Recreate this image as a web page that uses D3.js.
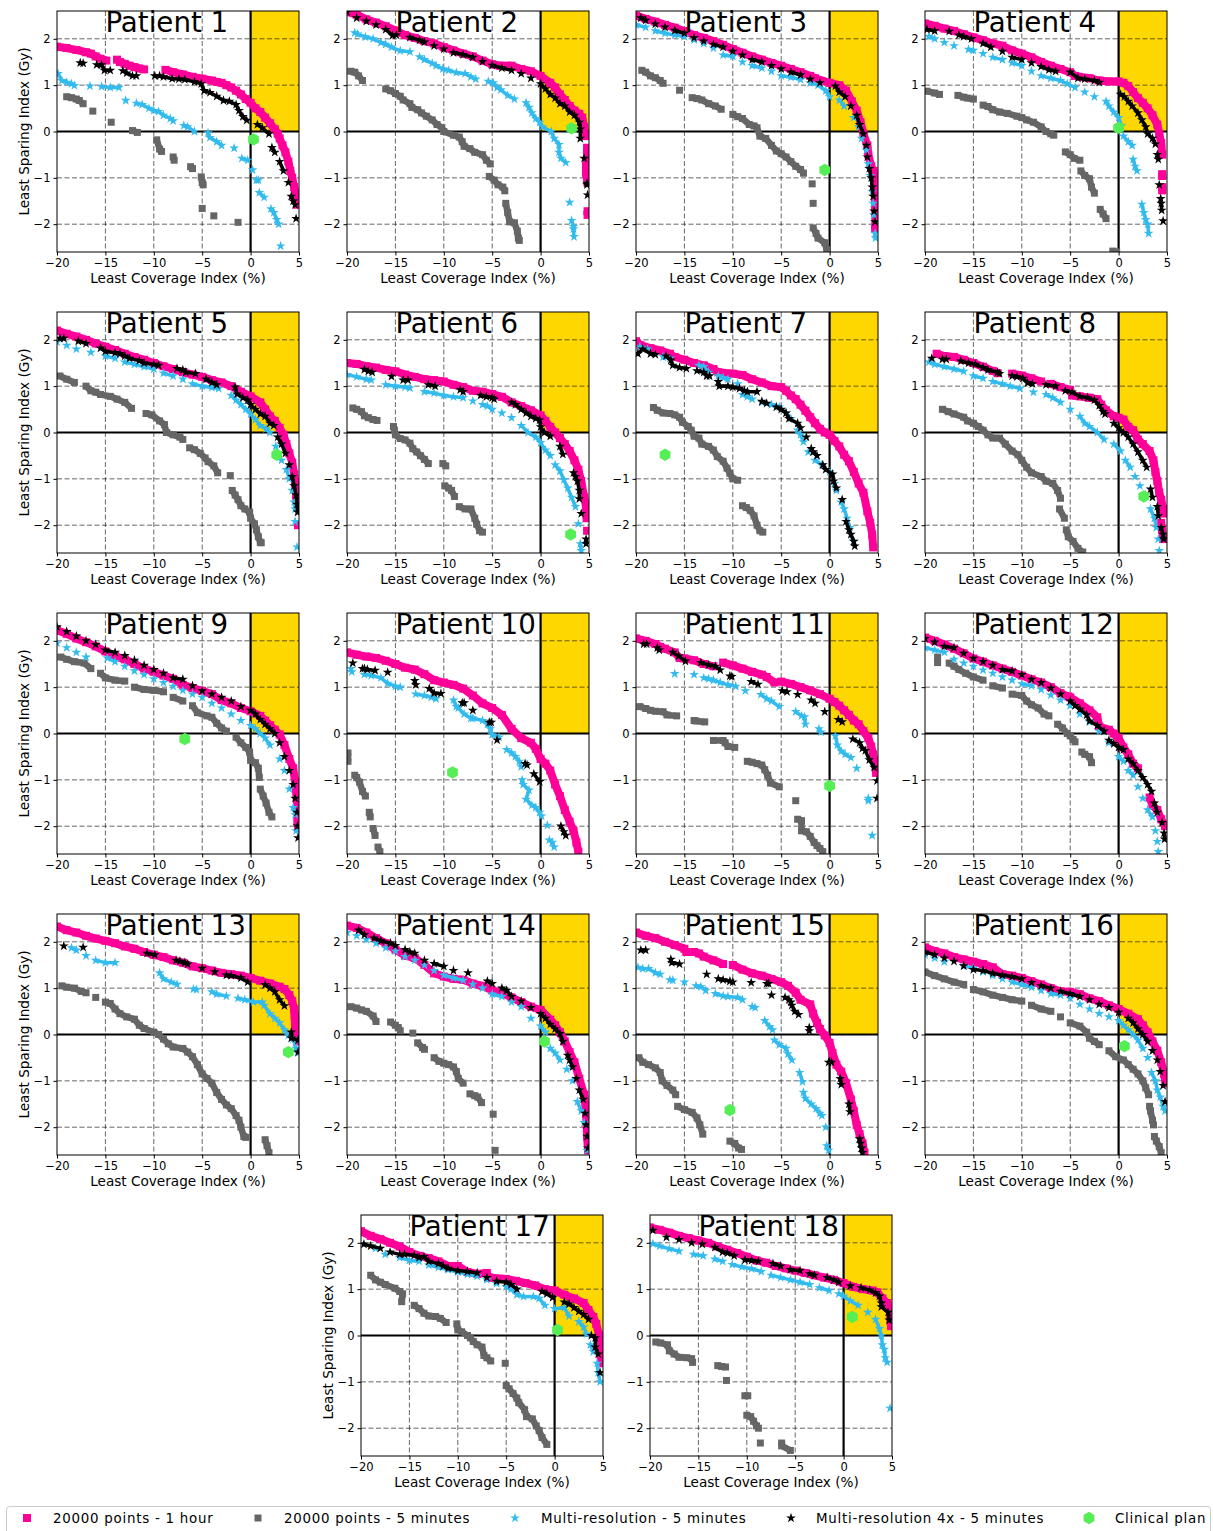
<!DOCTYPE html>
<html>
<head>
<meta charset="utf-8">
<script src="https://cdn.jsdelivr.net/npm/d3@7"></script>
<style>
body { margin: 0; background: #fff; }
text { font-family: "DejaVu Sans", sans-serif; fill: #000; }
</style>
</head>
<body>
<script>
// null = a real gap in the pink band
const pink1 = [[-20,1.83],[-19,1.8],[-18,1.76],[-17,1.71],[-16.5,1.68],[-16,1.62],[-15.5,1.57],[-14.9,1.53],null,[-13.8,1.55],[-13.5,1.5],[-13,1.46],[-12.5,1.42],[-12,1.39],[-11.5,1.36],[-11,1.34],null,[-8.8,1.33],[-8,1.28],[-7,1.23],[-6,1.18],[-5,1.14],[-4,1.1],[-3.5,1.07],[-3,1.05],[-2.5,1],[-2,0.95],[-1.5,0.88],[-1,0.8],[-0.5,0.7],[0,0.62],[0.5,0.5],[1,0.42],[1.5,0.3],[2,0.18],[2.5,0.05],[2.8,-0.05],[3,-0.15],[3.3,-0.3],[3.6,-0.45],[3.9,-0.65],[4.1,-0.85],[4.3,-1],[4.5,-1.2],[4.7,-1.4],[4.8,-1.58]];
const pink2 = [[-20,2.58],[-19,2.52],[-18,2.42],[-17,2.35],[-16,2.27],[-15,2.18],[-14,2.08],[-13,2.02],[-12,1.95],[-11,1.9],[-10,1.82],[-9,1.75],[-8,1.68],[-7,1.62],[-6,1.53],[-5,1.45],[-4.2,1.42],[-3,1.42],[-2,1.35],[-1,1.3],[0,1.2],[1,1.05],[1.5,0.95],[2,0.8],[2.5,0.68],[3,0.55],[3.5,0.45],[4,0.38],[4.3,0.3],[4.5,0.1],[4.6,-0.1],null,[4.8,-0.35],[4.8,-0.5],[4.7,-0.75],[4.7,-0.9],[4.85,-1.1],null,[4.85,-1.72],[4.85,-1.8]];
const pink3 = [[-20,2.5],[-19,2.43],[-18,2.37],[-17,2.3],[-16,2.24],[-15,2.17],[-14,2.08],[-13,2.02],[-12,1.95],[-11,1.87],[-10,1.78],[-9,1.7],[-8,1.62],[-7,1.55],[-6,1.48],[-5,1.42],[-4,1.35],[-3,1.28],[-2,1.2],[-1.5,1.15],[0,1.05],[1,1],[1.7,0.88],[2.3,0.65],[2.8,0.45],[3.2,0.2],[3.5,-0.05],[3.9,-0.3],[4,-0.5],[4.3,-0.75],[4.55,-0.85],[4.6,-1.05],[4.65,-1.2],[4.7,-1.4],[4.7,-1.6],[4.75,-1.8],[4.7,-2.1]];
const pink4 = [[-20,2.33],[-19,2.28],[-18,2.22],[-17,2.17],[-16,2.1],[-15,2.03],[-14,1.97],[-13,1.9],[-12,1.85],[-11,1.75],[-10,1.68],[-9,1.6],[-8,1.5],[-7,1.42],[-6,1.35],[-5,1.28],[-4.5,1.2],[-3,1.15],[-2,1.1],[-1,1.08],[0,1.08],[0.5,1.05],[1,0.98],[1.5,0.85],[2,0.72],[2.5,0.62],[3,0.5],[3.5,0.35],[4,0.15],[4.2,-0.05],[4.4,-0.25],[4.5,-0.5],null,[4.5,-0.92],[4.5,-0.96],null,[4.5,-1.2],[4.5,-1.27]];
const pink5 = [[-20,2.2],[-19,2.13],[-18,2.07],[-17,2],[-16,1.92],[-15,1.85],[-14,1.78],[-13,1.7],[-12,1.63],[-11,1.57],[-10,1.5],[-9,1.43],[-8,1.37],[-7,1.3],[-6,1.25],[-5,1.2],[-4,1.13],[-3,1.08],[-2,1],[-1,0.88],[0,0.78],[1,0.65],[1.5,0.5],[2,0.35],[2.5,0.25],[3,0.1],[3.4,-0.05],[3.7,-0.25],[4,-0.45],[4.3,-0.65],[4.5,-0.9],[4.6,-1.1],[4.7,-1.35],[4.8,-1.6],null,[4.9,-2]];
const pink6 = [[-20,1.5],[-19,1.48],[-18,1.43],[-17,1.4],[-16,1.35],[-15,1.32],[-14,1.25],[-13,1.2],[-12,1.15],[-11,1.13],[-10,1.1],[-9,1.03],[-8,0.98],[-7,0.9],[-6,0.88],[-5,0.83],[-4,0.77],[-3,0.65],[-2,0.57],[-1,0.48],[0,0.37],[0.5,0.25],[1,0.12],[1.5,0],[2,-0.12],[2.5,-0.25],[3,-0.4],[3.5,-0.6],[3.9,-0.8],[4.2,-1.05],[4.5,-1.4],[4.7,-1.6],[4.75,-1.85],null,[4.8,-2.12]];
const pink7 = [[-20,1.97],[-19.5,1.88],[-18.5,1.82],[-17.5,1.77],[-16.5,1.7],[-16,1.63],[-15,1.57],[-14,1.5],[-13,1.45],[-12,1.37],[-11.5,1.3],[-10,1.27],[-9,1.24],[-8,1.15],[-7,1.08],[-6,1],[-5,0.98],[-4.5,0.9],[-4,0.8],[-3.5,0.72],[-3,0.6],[-2.5,0.47],[-2,0.33],[-1.5,0.2],[-1,0.08],[-0.5,0],[0,-0.05],[0.5,-0.18],[1,-0.3],[1.5,-0.48],[2,-0.62],[2.5,-0.85],[3,-1.1],[3.5,-1.3],[3.9,-1.7],[4.2,-1.95],[4.4,-2.2],[4.5,-2.48]];
const pink8 = [[-18.8,1.7],[-18,1.65],[-17,1.63],[-16,1.57],[-15,1.5],[-14,1.42],[-13,1.33],[-12.5,1.28],null,[-11,1.27],[-10,1.23],[-9,1.17],[-8,1.1],null,[-7,1.05],[-6,0.98],[-5,0.92],[-4.8,0.8],[-4,0.78],[-3,0.75],[-2.2,0.72],[-1.8,0.6],[-1.3,0.48],[-0.5,0.35],[0,0.32],[0.5,0.28],[1,0.12],[1.5,0.05],[2,-0.15],[2.5,-0.25],[3.2,-0.4],[3.6,-0.6],[3.8,-0.85],[4,-1.05],[4.2,-1.3],[4.4,-1.45],[4.6,-1.65],[4.7,-1.75],null,[4.4,-1.95],[4.5,-2.1],[4.6,-2.3]];
const pink9 = [[-20,2.23],[-19,2.15],[-18,2.05],[-17,1.97],[-16,1.88],[-15,1.77],[-14,1.67],[-13,1.6],[-12,1.5],[-11,1.4],[-10,1.33],[-9,1.25],[-8,1.18],[-7,1.05],[-6,0.98],[-5,0.92],[-4,0.85],[-3,0.72],[-2,0.65],[-1,0.55],[0,0.48],[1,0.38],[1.5,0.28],[2,0.18],[2.5,0.08],[3,-0.02],[3.5,-0.25],[4,-0.55],[4.4,-0.75],[4.6,-1.05],[4.8,-1.5],[4.85,-1.9],[4.9,-2.05]];
const pink10 = [[-20,1.75],[-19,1.7],[-18,1.66],[-17,1.63],[-16,1.57],[-15,1.5],[-14,1.42],[-13,1.38],[-12,1.28],[-11,1.15],[-10,1.1],[-9,1.05],[-8,0.97],[-7,0.82],[-6,0.65],[-5,0.55],[-4,0.4],[-3,0.1],[-2,-0.1],[-1,-0.2],[-0.5,-0.33],[0,-0.55],[0.5,-0.65],[1,-0.8],[1.5,-1.1],[2,-1.35],[2.5,-1.65],[3,-1.9],[3.4,-2.1],[3.7,-2.35],[3.9,-2.55]];
const pink11 = [[-20,2.05],[-19,2],[-18,1.93],[-17.5,1.87],[-17,1.83],[-16,1.75],[-15.5,1.63],[-15,1.62],[-14,1.58],[-13,1.5],[-12,1.45],null,[-11,1.53],[-10,1.47],[-9,1.4],[-8,1.33],[-7,1.27],[-6.5,1.22],[-5.7,1.1],null,[-5,1.12],[-4,1.07],[-3,1],[-2,0.93],[-1,0.85],[0,0.75],[0.5,0.68],[1,0.6],[1.5,0.5],[2,0.4],[2.5,0.28],[3,0.2],[3.5,0.05],[4,-0.1],[4.3,-0.28],[4.5,-0.45],[4.7,-0.65],[4.8,-0.85]];
const pink12 = [[-20,2.07],[-19,2],[-18,1.92],[-17,1.83],[-16,1.73],[-15,1.62],[-14,1.55],[-13,1.47],[-12,1.4],[-11,1.33],[-10,1.25],[-9,1.17],[-8,1.1],[-7,1],[-6,0.87],[-5.2,0.8],[-5,0.78],[-4,0.65],[-3,0.5],[-2.2,0.35],[-2,0.15],[-1,0.08],[-0.5,0],[0,-0.1],[0.5,-0.3],[1,-0.45],[1.5,-0.65],[2,-0.75],null,[3.2,-1.38],[3.5,-1.55],[4,-1.65],[4.4,-1.85],[4.8,-2]];
const pink13 = [[-20,2.33],[-19,2.25],[-18,2.2],[-17,2.13],[-16,2.07],[-15,2.02],[-14,1.97],[-13,1.9],[-12,1.85],[-11,1.78],[-10,1.72],[-9,1.67],[-8,1.6],[-7,1.55],[-6,1.47],[-5,1.43],[-4,1.38],[-3,1.33],[-2,1.3],[-1,1.27],[0,1.22],[1,1.16],[2,1.1],[3,1.03],[3.5,0.98],[4,0.85],[4.3,0.72],[4.5,0.55],[4.55,0.4],[4.6,0.2],[4.7,0],[4.8,-0.15]];
const pink14 = [[-20,2.35],[-19,2.3],[-18,2.2],[-17,2.08],[-16,1.97],[-15,1.83],[-14,1.7],[-13,1.65],[-12,1.5],[-11,1.32],[-10,1.25],[-9,1.2],[-8,1.18],[-7,1.1],[-6,1.05],[-5,0.95],[-4,0.9],[-3,0.8],[-2,0.7],[-1,0.6],[0,0.53],[1,0.32],[1.5,0.2],[2,0.05],[2.5,-0.15],[3,-0.38],[3.5,-0.6],[4,-0.95],[4.5,-1.3],[4.7,-1.7],[4.8,-2.2],[4.9,-2.5]];
const pink15 = [[-20,2.2],[-19,2.13],[-18,2.08],[-17,2],[-16,1.93],[-15,1.85],[-14.8,1.78],null,[-14,1.78],[-13.5,1.75],[-13,1.68],[-12,1.6],[-11,1.52],null,[-10,1.5],[-9,1.4],[-8,1.32],[-7,1.27],[-6,1.2],[-5,1.13],[-4.3,1.05],[-3.5,0.9],[-3,0.75],[-2,0.65],[-1.7,0.45],[-1.3,0.25],[-1,0.12],[-0.5,-0.02],[0,-0.18],[0.3,-0.4],[0.7,-0.65],[1.2,-0.8],[1.7,-1.05],[2.2,-1.4],[2.5,-1.65],[2.8,-1.95],[3.1,-2.15],[3.4,-2.35],[3.6,-2.55]];
const pink16 = [[-20,1.88],[-19,1.8],[-18,1.75],[-17,1.67],[-16,1.62],[-15,1.57],[-14,1.52],[-13,1.45],[-12,1.3],[-11,1.27],[-10,1.22],[-9,1.15],[-8,1.08],[-7,1],[-6,0.93],[-5,0.92],[-4,0.87],[-3,0.78],[-2,0.72],[-1,0.63],[0,0.55],[1,0.45],[2,0.33],[2.5,0.2],[3,0.05],[3.5,-0.15],[4,-0.35],[4.4,-0.6],[4.7,-0.85],[4.85,-1.05]];
const pink17 = [[-20,2.25],[-19,2.15],[-18,2.08],[-17,2],[-16,1.92],[-15,1.8],[-14,1.72],[-13,1.67],[-12,1.6],[-11,1.5],[-10,1.5],[-9,1.37],[-8,1.33],[-7,1.35],[-6.8,1.25],[-5,1.22],[-4,1.18],[-3,1.13],[-2,1.08],[-1,1],[0,0.97],[1,0.88],[2,0.8],[3,0.7],[3.5,0.55],[4,0.4],[4.3,0.25],[4.6,0],[4.75,-0.4],[4.8,-0.6]];
const pink18 = [[-20,2.33],[-19,2.28],[-18,2.22],[-17,2.15],[-16,2.1],[-15,2.05],[-14,2],[-13,1.92],[-12,1.85],[-11,1.78],[-10,1.7],[-9,1.62],[-8,1.57],[-7,1.5],[-6,1.45],[-5,1.4],[-4,1.35],[-3,1.3],[-2,1.25],[-1,1.2],[0,1.13],[1,1.05],[2,1],[3,0.97],[3.5,0.93],[4,0.8],[4.5,0.7],[4.8,0.55],[4.85,0.35],[4.9,0.2]];

const gray1 = [[-19,0.75],[-18.5,0.73],[-18,0.7],[-17.7,0.67],[-17.3,0.6],[-16.3,0.44],[-14.4,0.2],[-12.2,0.02],[-11.7,-0.02],[-9.7,-0.18],[-9.4,-0.38],[-9.2,-0.43],[-8,-0.55],[-7.9,-0.62],[-6.2,-0.76],[-6,-0.8],[-5.1,-0.98],[-5,-1.1],[-4.9,-1.15],[-5,-1.66],[-3.8,-1.82],[-1.3,-1.96]];
const gray2 = [[-19.6,1.3],[-19.2,1.28],[-18.8,1.2],[-18.4,1.1],[-16,0.92],[-15.5,0.88],[-15,0.82],[-14.5,0.76],[-14.2,0.68],[-13.5,0.6],[-13.3,0.52],[-12.7,0.47],[-12.3,0.4],[-11.8,0.33],[-11.2,0.25],[-10.7,0.15],[-10.2,0.08],[-10,0],[-9,-0.08],[-8.4,-0.12],[-8.1,-0.22],[-7.9,-0.32],[-7.3,-0.37],[-6.8,-0.45],[-6,-0.5],[-5.6,-0.62],[-5.2,-0.7],[-5.3,-0.97],[-4.8,-1.05],[-4.4,-1.15],[-3.9,-1.2],[-3.7,-1.28],[-3.6,-1.55],[-3.4,-1.75],[-3.2,-1.95],[-2.7,-1.97],[-2.4,-2.15],[-2.3,-2.3],[-2.2,-2.35]];
const gray3 = [[-19.4,1.32],[-19,1.28],[-18.5,1.2],[-18,1.16],[-17.5,1.1],[-17.2,1.04],[-15.5,0.89],[-14.2,0.73],[-13.7,0.71],[-13.2,0.68],[-12.5,0.6],[-11.8,0.55],[-11.2,0.48],[-10,0.37],[-9.5,0.32],[-9,0.28],[-8.3,0.15],[-7.8,0.12],[-7.5,0.08],[-7.2,-0.1],[-6.6,-0.15],[-6,-0.3],[-5.5,-0.42],[-5,-0.48],[-4.5,-0.55],[-4,-0.65],[-3.5,-0.75],[-3,-0.82],[-2.7,-0.9],[-1.8,-1.13],[-1.7,-1.55],[-1.7,-2.08],[-1.4,-2.2],[-1.2,-2.3],[-0.5,-2.4],[-0.3,-2.55]];
const gray4 = [[-19.8,0.87],[-19,0.83],[-18.5,0.8],[-16.6,0.78],[-16,0.74],[-15.6,0.72],[-15,0.7],[-14,0.57],[-13.5,0.54],[-13,0.47],[-12.3,0.42],[-11.5,0.39],[-10.5,0.33],[-10,0.3],[-9.5,0.25],[-8.8,0.2],[-8,0.1],[-7.5,0],[-7,-0.05],[-6.7,-0.08],[-5.5,-0.44],[-5,-0.5],[-4.6,-0.58],[-4,-0.62],[-3.9,-0.85],[-3.5,-0.95],[-3,-1.02],[-2.8,-1.2],[-2.5,-1.33],[-1.9,-1.68],[-1.6,-1.78],[-1.3,-1.88],[-0.6,-2.58],[-0.2,-2.6]];
const gray5 = [[-19.7,1.22],[-19,1.15],[-18.2,1.08],[-17,1],[-16.5,0.9],[-16,0.87],[-15.5,0.82],[-14.5,0.78],[-13.8,0.72],[-13,0.65],[-12.3,0.52],[-10.8,0.41],[-10.2,0.38],[-9.4,0.25],[-8.9,0.17],[-8.7,0],[-8,-0.05],[-7.3,-0.1],[-7,-0.15],[-6.3,-0.33],[-5.8,-0.37],[-5.2,-0.45],[-4.7,-0.55],[-4.4,-0.63],[-3.8,-0.72],[-3.4,-0.87],[-2.1,-0.93],[-1.9,-1.25],[-1.6,-1.35],[-1.3,-1.45],[-1,-1.58],[-0.6,-1.65],[-0.1,-1.72],[0,-1.85],[0.4,-1.97],[0.6,-2.1],[0.8,-2.25],[1,-2.37],[1.1,-2.38]];
const gray6 = [[-19.4,0.53],[-19,0.5],[-18.5,0.45],[-18.2,0.36],[-17.8,0.32],[-17.3,0.28],[-16.9,0.26],[-15.2,0.13],[-15.1,0.05],[-15,-0.05],[-14.5,-0.13],[-14,-0.16],[-13.5,-0.23],[-13.2,-0.35],[-12.8,-0.42],[-12.4,-0.5],[-12,-0.58],[-11.6,-0.67],[-10.1,-0.67],[-9.8,-0.72],[-9.9,-1.15],[-9.5,-1.2],[-9.2,-1.25],[-8.9,-1.38],[-8.4,-1.6],[-7.8,-1.65],[-7.2,-1.65],[-6.8,-1.85],[-6.6,-1.98],[-6.3,-2.12],[-6,-2.15]];
const gray7 = [[-18.2,0.54],[-17.8,0.48],[-17.2,0.42],[-16.5,0.41],[-16,0.38],[-15.5,0.33],[-15.2,0.22],[-14.6,0.13],[-14.3,0.05],[-14,-0.08],[-13.5,-0.12],[-13.2,-0.25],[-12.5,-0.3],[-12,-0.38],[-11.6,-0.52],[-11,-0.62],[-10.6,-0.77],[-10.3,-0.88],[-10,-1],[-9.5,-1.03],[-9,-1.58],[-8.6,-1.62],[-8.2,-1.68],[-7.8,-1.8],[-7.5,-2],[-7.2,-2.12],[-6.9,-2.15]];
const gray8 = [[-18.2,0.5],[-17.6,0.45],[-17,0.4],[-16,0.33],[-15.6,0.25],[-15,0.2],[-14.5,0.13],[-14,0.05],[-13.5,-0.05],[-13,-0.12],[-12.3,-0.12],[-11.7,-0.25],[-11,-0.4],[-10.4,-0.48],[-10,-0.6],[-9.5,-0.75],[-9,-0.87],[-8,-0.95],[-7.5,-1.05],[-6.8,-1.1],[-6.3,-1.25],[-6,-1.42],[-6.1,-1.65],[-5.6,-1.85],[-5.4,-2.1],[-5.2,-2.25],[-4.7,-2.35],[-4.2,-2.5],[-3.7,-2.58]];
const gray9 = [[-19.6,1.65],[-19,1.6],[-18.2,1.55],[-17.2,1.52],[-16.5,1.4],[-15.5,1.3],[-15,1.2],[-14,1.15],[-13,1.13],[-12,1],[-11,0.95],[-10,0.93],[-9,0.9],[-8,0.78],[-7,0.7],[-6,0.6],[-5.5,0.45],[-4.5,0.38],[-4,0.35],[-3.5,0.22],[-3,0.12],[-2.5,0.05],[-1.5,-0.08],[-1,-0.2],[-0.5,-0.3],[-0.1,-0.4],[0,-0.58],[0.5,-0.63],[0.8,-0.75],[0.9,-0.95],[1,-1.2],[1.3,-1.35],[1.6,-1.5],[1.9,-1.7],[2.2,-1.8]];
const gray10 = [[-19.9,-0.42],[-19.9,-0.6],[-19.2,-0.9],[-19,-0.95],[-18.7,-1.05],[-18.4,-1.25],[-18.1,-1.35],[-17.7,-1.7],[-17.6,-1.8],[-17.3,-2.05],[-17.1,-2.2],[-16.8,-2.45],[-16.6,-2.55]];
const gray11 = [[-19.6,0.58],[-19,0.54],[-18.5,0.5],[-18,0.48],[-17.2,0.47],[-16.8,0.4],[-15.8,0.38],[-14,0.28],[-13.8,0.27],[-12.9,0.25],[-12,-0.15],[-11,-0.15],[-10.8,-0.2],[-10.5,-0.28],[-9.8,-0.3],[-8.5,-0.6],[-8,-0.62],[-7.5,-0.65],[-7,-0.68],[-6.7,-0.78],[-6.4,-0.9],[-6.1,-1.07],[-5.2,-1.15],[-3.5,-1.45],[-3.3,-1.85],[-2.9,-1.88],[-2.9,-2.1],[-2.4,-2.12],[-2,-2.22],[-1.6,-2.35],[-1.3,-2.42],[-1,-2.48],[-0.7,-2.55]];
const gray12 = [[-18.7,1.65],[-18.7,1.53],[-17.5,1.52],[-17,1.45],[-16.5,1.38],[-15.8,1.3],[-15,1.22],[-14,1.15],[-13,1.03],[-12,0.98],[-11,0.85],[-10,0.82],[-9.5,0.7],[-9,0.62],[-8.3,0.55],[-7.7,0.42],[-7.2,0.38],[-6.3,0.2],[-5.8,0.12],[-5.3,0],[-5,-0.05],[-4.7,-0.13],[-4.5,-0.18],[-3.8,-0.4],[-3.5,-0.45],[-3,-0.5],[-2.8,-0.63]];
const gray13 = [[-19.5,1.05],[-19,1.02],[-18.2,1],[-17.5,0.93],[-17,0.9],[-16,0.8],[-15,0.7],[-14.5,0.67],[-14,0.55],[-13.5,0.45],[-12.8,0.38],[-12,0.33],[-11.5,0.2],[-11,0.13],[-10,0.05],[-9.5,0],[-9,-0.1],[-8.5,-0.2],[-8,-0.27],[-7,-0.3],[-6.5,-0.38],[-6,-0.48],[-5.5,-0.65],[-5,-0.85],[-4.5,-0.95],[-4,-1.05],[-3.5,-1.25],[-3,-1.4],[-2.5,-1.52],[-2,-1.6],[-1.5,-1.75],[-1.2,-1.85],[-1,-2],[-0.7,-2.2],[-0.5,-2.22],[1.5,-2.27],[1.7,-2.4],[1.9,-2.55]];
const gray14 = [[-19.6,0.6],[-19,0.57],[-18.5,0.53],[-18,0.5],[-17.3,0.4],[-17,0.28],[-15.5,0.27],[-15,0.2],[-14.7,0.15],[-14.5,0.08],[-13.2,0.03],[-12.7,-0.18],[-12.2,-0.28],[-12,-0.32],[-11,-0.5],[-10.5,-0.58],[-10,-0.62],[-9.5,-0.65],[-9,-0.7],[-8.7,-0.8],[-8.5,-0.95],[-8,-1.05],[-7.3,-1.28],[-6.8,-1.32],[-6.5,-1.35],[-6.1,-1.47],[-4.9,-1.72],[-4.7,-2.5]];
const gray15 = [[-19.7,-0.5],[-19.3,-0.6],[-18.7,-0.65],[-18,-0.72],[-17.5,-0.82],[-17.3,-1],[-16.8,-1.1],[-16.2,-1.2],[-15.9,-1.3],[-15.7,-1.55],[-15,-1.62],[-14.2,-1.68],[-13.7,-1.8],[-13.4,-1.95],[-13.1,-2.15],[-10.3,-2.3],[-9.8,-2.35],[-9.4,-2.45],[-9.1,-2.48]];
const gray16 = [[-20,1.35],[-19,1.27],[-18,1.2],[-17,1.13],[-16,1.08],[-15,0.97],[-14,0.92],[-13,0.85],[-12,0.8],[-11,0.75],[-10,0.72],[-9,0.63],[-8,0.55],[-7,0.5],[-6,0.38],[-5,0.25],[-4,0.18],[-3.3,0.05],[-3,-0.08],[-2.5,-0.15],[-2,-0.22],[-1,-0.35],[-0.3,-0.48],[0.5,-0.55],[1,-0.65],[1.5,-0.75],[2,-0.85],[2.5,-1],[2.8,-1.15],[3.1,-1.3],[3.2,-1.55],[3.3,-1.65],[3.5,-1.85],[3.6,-1.95],[3.7,-2.2],[3.9,-2.3],[4.2,-2.42],[4.4,-2.55]];
const gray17 = [[-19,1.3],[-18.5,1.2],[-18,1.15],[-17.5,1.1],[-16.5,1.02],[-16,0.95],[-15.7,0.9],[-15.8,0.73],[-14.5,0.65],[-14,0.58],[-13.5,0.48],[-13,0.42],[-12.3,0.41],[-11.8,0.37],[-11.2,0.28],[-10.1,0.25],[-10,0.12],[-9.6,0.08],[-9,0],[-8.7,-0.05],[-8.4,-0.13],[-8,-0.2],[-7.5,-0.25],[-7.3,-0.43],[-7,-0.48],[-6.6,-0.55],[-5.1,-0.6],[-5,-1.08],[-4.7,-1.15],[-4.3,-1.25],[-3.9,-1.35],[-3.7,-1.45],[-3.1,-1.6],[-2.9,-1.75],[-2.3,-1.8],[-1.9,-1.95],[-1.6,-2.05],[-1.3,-2.2],[-0.8,-2.35]];
const gray18 = [[-19.4,-0.14],[-18.9,-0.16],[-18.2,-0.2],[-18,-0.33],[-17.5,-0.4],[-17,-0.47],[-16.2,-0.48],[-15.7,-0.5],[-15.6,-0.58],[-13,-0.65],[-12.6,-0.67],[-12.2,-0.68],[-12.1,-0.97],[-10.2,-1.3],[-9.9,-1.3],[-10,-1.72],[-9.6,-1.75],[-9.3,-1.85],[-9,-1.95],[-8.8,-2],[-8.6,-2.32],[-6.4,-2.32],[-6.4,-2.38],[-5.5,-2.48]];

const blue1 = [[-19.9,1.25],[-19.5,1.1],[-19,1.06],[-18.5,1.03],[-18.2,0.99],[-16.6,0.98],[-15.4,0.97],[-14.5,0.95],[-13.6,0.95],[-12.9,0.67],[-11.8,0.61],[-11.2,0.58],[-10.5,0.5],[-10,0.45],[-9.5,0.43],[-9,0.35],[-8.3,0.28],[-8,0.23],[-6.9,0.13],[-6.5,0.1],[-5.8,0],[-4.4,-0.03],[-4.2,-0.13],[-3.5,-0.22],[-3,-0.3],[-1.7,-0.36],[-0.9,-0.58],[-0.3,-0.62],[0.2,-0.83],[0.6,-1.05],[0.8,-1.05],[0.9,-1.32],[1.4,-1.42],[2.1,-1.67],[2.4,-1.75],[2.7,-1.9],[2.9,-2],[3.1,-2.47]];
const blue2 = [[-19.2,2.13],[-18.9,2.1],[-18.1,2.04],[-17.3,2],[-16.5,1.92],[-16,1.88],[-15.4,1.82],[-14.5,1.74],[-13.5,1.72],[-12.5,1.61],[-12,1.55],[-11.2,1.47],[-10.8,1.42],[-10.1,1.35],[-9.5,1.32],[-8.7,1.27],[-7.8,1.25],[-7.2,1.18],[-6.7,1.13],[-5.4,1.08],[-4.9,1.05],[-4.5,0.95],[-4.1,0.9],[-3.4,0.78],[-2.7,0.7],[-1.5,0.62],[-1.2,0.52],[-0.9,0.4],[-0.5,0.28],[-0.1,0.2],[0.2,0.1],[1.1,0],[1.4,-0.15],[1.9,-0.28],[1.9,-0.45],[2.1,-0.58],[2.6,-0.67],[3,-1.53],[3.2,-1.92],[3.4,-2.05],[3.4,-2.1],[3.45,-2.27]];
const blue3 = [[-20,2.3],[-19,2.25],[-18,2.17],[-17,2.12],[-16,2.08],[-15,2.05],[-14,1.98],[-13,1.9],[-12,1.8],[-11,1.65],[-10,1.62],[-9,1.5],[-8,1.42],[-7,1.37],[-6,1.3],[-5,1.2],[-4,1.17],[-3,1.12],[-2,1.05],[-1.2,1],[-0.4,0.88],[0,0.75],[1,0.68],[1.5,0.55],[2.5,0.3],[3,0.1],[3.3,-0.15],[3.8,-0.4],[4,-0.7],[4.2,-0.95],[4.4,-1.3],[4.5,-1.55],[4.55,-1.8],[4.7,-2.2],[4.75,-2.3]];
const blue4 = [[-19.6,2.05],[-19,2],[-18,1.92],[-17,1.85],[-15.5,1.77],[-15,1.75],[-14,1.68],[-13,1.6],[-12,1.55],[-11,1.48],[-10,1.42],[-9,1.3],[-8,1.2],[-7,1.15],[-6,1.1],[-5.3,1.03],[-4.5,0.95],[-3.5,0.85],[-2.5,0.75],[-1.3,0.65],[-1,0.55],[-0.5,0.42],[0,0.3],[0.3,0.12],[0.5,-0.1],[1,-0.22],[1.4,-0.3],[1.5,-0.6],[1.7,-0.75],[1.9,-0.85],[2.4,-1.57],[2.6,-1.75],[2.8,-1.9],[3,-2],[3.1,-2.2]];
const blue5 = [[-20,1.95],[-19,1.88],[-18,1.8],[-16.5,1.73],[-15,1.65],[-14,1.6],[-13,1.52],[-12,1.47],[-11,1.42],[-10,1.37],[-9,1.28],[-8,1.22],[-7,1.15],[-6,1.05],[-5,1],[-4,0.97],[-3.3,0.95],[-2,0.8],[-1.5,0.7],[-1,0.6],[-0.5,0.5],[0,0.4],[0.5,0.28],[1,0.15],[1.6,0.08],[2,0],[2.6,-0.3],[3.2,-0.6],[3.7,-0.8],[4,-1],[4.3,-1.25],[4.5,-1.5],[4.6,-1.65],[4.6,-1.92],[4.8,-2.47]];
const blue6 = [[-20,1.25],[-19,1.2],[-18,1.15],[-17.5,1.13],[-16,1.03],[-15,1],[-14,0.98],[-13.5,0.96],[-12,0.88],[-11,0.85],[-10,0.8],[-9,0.77],[-8,0.75],[-7,0.68],[-6,0.6],[-5.5,0.57],[-5,0.5],[-4,0.42],[-3,0.32],[-2,0.15],[-1.3,0],[-0.5,-0.1],[0,-0.22],[0.5,-0.38],[1,-0.5],[1.5,-0.7],[2,-0.83],[2.4,-1.02],[2.8,-1.2],[3.2,-1.4],[3.6,-1.6],[3.9,-1.97],[4.1,-2.4],[4.2,-2.55]];
const blue7 = [[-19.6,1.85],[-18.8,1.8],[-17.2,1.63],[-16.5,1.6],[-13.5,1.45],[-13,1.42],[-12.5,1.3],[-11.5,1.22],[-11,1.18],[-10.5,1.15],[-9.5,1.05],[-9,0.82],[-8.5,0.77],[-8,0.72],[-7,0.65],[-6,0.6],[-5.2,0.55],[-4.5,0.42],[-4,0.3],[-3.3,0.05],[-3,-0.05],[-2.7,-0.2],[-2.2,-0.42],[-1.5,-0.6],[-0.8,-0.7],[0,-0.85],[0.5,-1.1],[0.7,-1.25],[1.2,-1.5],[1.5,-1.65],[1.8,-1.85],[2.1,-2.05],[2.5,-2.35]];
const blue8 = [[-19.6,1.52],[-19,1.47],[-18,1.42],[-17,1.37],[-16,1.32],[-15,1.22],[-14,1.17],[-13,1.1],[-12,1.05],[-11.2,1],[-10.2,0.95],[-8.8,0.87],[-7.5,0.82],[-6.8,0.75],[-6,0.65],[-5,0.5],[-4,0.35],[-3.5,0.2],[-3,0.13],[-2.2,0],[-1.5,-0.15],[-0.5,-0.25],[0.2,-0.4],[0.7,-0.6],[1.2,-0.75],[1.7,-0.95],[2.2,-1.15],[2.8,-1.35],[3.3,-1.65],[3.7,-1.85],[3.9,-2.05],[4.1,-2.3],[4.2,-2.55]];
const blue9 = [[-20,1.95],[-19,1.85],[-18,1.75],[-17,1.65],[-14.8,1.63],[-14,1.55],[-13,1.45],[-12,1.35],[-11,1.27],[-10,1.18],[-9,1.1],[-8,1.02],[-7,0.93],[-6,0.85],[-5,0.78],[-4,0.65],[-3,0.55],[-2,0.42],[-1,0.28],[0,0.17],[0.5,0.1],[1,0],[1.5,-0.1],[2,-0.25],[3,-0.55],[3.5,-0.8],[4,-1.2],[4.4,-1.6],[4.6,-1.75],[4.7,-2.1]];
const blue10 = [[-19.6,1.4],[-19.5,1.33],[-18.2,1.27],[-17.5,1.25],[-16.5,1.2],[-15.8,1.08],[-15,1.02],[-14.5,1],[-12.9,0.85],[-12,0.82],[-11.3,0.78],[-10.8,0.75],[-9,0.72],[-8.7,0.58],[-8.5,0.55],[-7.9,0.42],[-7.2,0.33],[-7,0.33],[-6,0.28],[-5.5,0.2],[-5.2,0.1],[-5,-0.03],[-4.3,-0.08],[-3.5,-0.35],[-3,-0.42],[-2.6,-0.5],[-2.2,-0.6],[-2,-0.72],[-1.9,-1],[-1.8,-1.1],[-1.2,-1.22],[-1.5,-1.42],[-0.9,-1.55],[-0.5,-1.6],[-0.1,-1.7],[0.1,-1.78],[0.7,-1.98],[0.9,-2.3],[1.2,-2.35],[1.4,-2.45]];
const blue11 = [[-16,1.29],[-14,1.27],[-13,1.2],[-12.5,1.18],[-12,1.15],[-11.3,1.1],[-10.5,1.05],[-9.7,1.02],[-8.7,0.92],[-7.1,0.84],[-6.5,0.75],[-6,0.7],[-5.2,0.58],[-3.5,0.47],[-2.9,0.38],[-2.6,0.36],[-2.5,0.2],[-1.1,0.1],[-0.9,0.03],[0.6,-0.05],[0.8,-0.25],[1.2,-0.38],[1.6,-0.45],[2.2,-0.52],[2.8,-0.75],[4,-1.4],[4,-1.45],[4.4,-2.2]];
const blue12 = [[-20,1.85],[-19,1.8],[-18,1.75],[-17,1.6],[-16,1.52],[-15,1.45],[-14,1.37],[-13,1.3],[-12,1.22],[-11,1.15],[-10,1.07],[-9,1.03],[-8,0.95],[-7,0.83],[-6,0.72],[-5,0.6],[-4,0.42],[-3,0.25],[-2,0.05],[-1,-0.2],[0,-0.5],[0.5,-0.6],[1,-0.8],[1.5,-0.9],[2,-1.15],[2.5,-1.4],[3,-1.65],[3.5,-1.8],[3.8,-2.1],[4,-2.33],[4.1,-2.55]];
const blue13 = [[-18.5,1.87],[-18,1.82],[-17,1.7],[-16,1.6],[-15,1.55],[-14,1.55],[-9.4,1.33],[-9,1.2],[-8.2,1.13],[-7.6,1.08],[-5.9,0.98],[-5.6,0.97],[-4,0.92],[-3.5,0.87],[-2.5,0.83],[-1.3,0.78],[-0.6,0.75],[0.3,0.7],[1.2,0.7],[1.4,0.63],[2,0.45],[2.5,0.35],[3,0.25],[3.5,0.1],[3.9,-0.02],[4.4,-0.1],[4.7,-0.3],[4.9,-0.4]];
const blue14 = [[-20,2.2],[-19,2.13],[-18,2.05],[-17,1.97],[-16,1.87],[-15,1.8],[-14,1.68],[-13,1.6],[-12,1.5],[-11,1.38],[-10,1.28],[-9,1.22],[-8,1.17],[-7,1.08],[-6,1],[-5,0.87],[-4,0.82],[-3,0.7],[-2,0.6],[-1,0.35],[0,0.18],[0.5,0.05],[1,-0.3],[1.5,-0.4],[2,-0.55],[2.7,-0.75],[3.3,-1],[3.8,-1.45],[4.2,-1.65],[4.5,-1.9],[4.8,-2.5]];
const blue15 = [[-19.8,1.45],[-19.3,1.42],[-18.7,1.42],[-18,1.33],[-17.5,1.3],[-16.5,1.18],[-16.2,1.17],[-15,1.13],[-13.8,1.05],[-13.3,1.03],[-12.8,0.95],[-11.8,0.88],[-11,0.83],[-10.5,0.82],[-9.5,0.8],[-9,0.75],[-8,0.6],[-7.7,0.58],[-6.7,0.3],[-6.2,0.17],[-5.9,0.1],[-5.7,-0.12],[-5.2,-0.22],[-4.5,-0.3],[-4.3,-0.42],[-3.9,-0.55],[-3.1,-0.82],[-2.8,-1.02],[-2.7,-1.25],[-2.5,-1.38],[-1.9,-1.5],[-1.4,-1.6],[-1,-1.7],[-0.8,-1.75],[-0.4,-2],[-0.3,-2.4],[-0.1,-2.5]];
const blue16 = [[-20,1.72],[-19,1.65],[-18,1.57],[-16,1.48],[-15,1.43],[-14,1.35],[-13,1.27],[-12,1.2],[-11,1.13],[-10,1.08],[-9,1.02],[-8,0.95],[-7,0.88],[-6,0.85],[-5,0.78],[-4,0.65],[-3,0.55],[-2,0.45],[-1,0.38],[0,0.3],[0.5,0.2],[1,0.1],[1.5,0],[2,-0.12],[2.5,-0.3],[3,-0.5],[3.4,-0.82],[3.8,-1],[4,-1.2],[4.3,-1.35],[4.6,-1.55],[4.8,-1.65]];
const blue17 = [[-18.5,1.88],[-17.5,1.75],[-16,1.68],[-15,1.62],[-14,1.6],[-13,1.52],[-12,1.47],[-11,1.42],[-10,1.37],[-9,1.32],[-8,1.28],[-7,1.2],[-6,1.12],[-5,1.05],[-4.5,1],[-3.9,0.88],[-3.2,0.84],[-2.2,0.84],[-1.6,0.8],[-1,0.65],[0,0.58],[1,0.6],[1.5,0.42],[2.5,0.3],[3,0.18],[3.3,0.03],[3.7,-0.2],[4,-0.35],[4.4,-0.6],[4.5,-0.8],[4.7,-1]];
const blue18 = [[-19.7,1.98],[-19,1.93],[-18,1.87],[-17,1.82],[-15.5,1.75],[-14.5,1.72],[-13.3,1.65],[-12.5,1.6],[-11.5,1.53],[-10.5,1.48],[-9.5,1.44],[-8.5,1.38],[-7.5,1.3],[-6.5,1.25],[-5.5,1.2],[-4.5,1.15],[-3.5,1.1],[-2.5,1.03],[-1.5,0.97],[-0.5,0.9],[0,0.85],[0.7,0.75],[1.5,0.65],[2.5,0.5],[3.3,0.35],[3.7,0.15],[3.9,0],[4,-0.2],[4.2,-0.3],[4.3,-0.48],[4.5,-0.58],[4.8,-1.57]];

const black1 = [[-17.6,1.48],[-17.3,1.47],[-15.9,1.44],[-15.4,1.44],[-15.1,1.32],[-14.5,1.32],[-13.2,1.31],[-12.8,1.26],[-12.2,1.2],[-11.8,1.2],[-9.9,1.2],[-9.4,1.2],[-9,1.18],[-8.1,1.14],[-7.4,1.13],[-6.8,1.12],[-5.8,1.07],[-5.1,1.03],[-4.8,0.88],[-4.2,0.84],[-3.5,0.76],[-2.8,0.67],[-2.2,0.65],[-1.5,0.58],[-1.2,0.45],[-0.8,0.32],[-0.4,0.24],[0.7,0.15],[1.2,0.08],[1.9,-0.05],[2.2,-0.35],[2.5,-0.45],[3,-0.65],[3.4,-0.85],[3.9,-1.1],[4.2,-1.4],[4.4,-1.5],[4.6,-1.58],[4.7,-1.88]];
const black2 = [[-20,2.58],[-19,2.45],[-18,2.38],[-17,2.3],[-16,2.2],[-15.3,2.07],[-14.9,2.08],[-13.5,2.03],[-12.5,1.97],[-12,1.93],[-11,1.85],[-10,1.78],[-9,1.7],[-8,1.66],[-7,1.6],[-6,1.51],[-5,1.43],[-4,1.37],[-3,1.32],[-2,1.25],[-1,1.15],[0,1.03],[0.5,0.92],[1,0.8],[1.5,0.72],[2,0.6],[2.5,0.55],[3,0.42],[3.5,0.35],[4,0.2],[4.1,0.05],[4.1,-0.15],[4.5,-0.58],[4.8,-1.12],[4.8,-1.15],[4.85,-1.37]];
const black3 = [[-19.5,2.45],[-19,2.4],[-18,2.32],[-17,2.25],[-16,2.18],[-15,2.12],[-14,2.02],[-13,1.95],[-12,1.88],[-11,1.82],[-10,1.73],[-9,1.65],[-8,1.55],[-7,1.5],[-6,1.42],[-5,1.35],[-4,1.28],[-3,1.22],[-2,1.13],[-1,1.05],[0.6,0.98],[1,0.85],[1.6,0.75],[2.2,0.55],[2.8,0.35],[3.1,0.15],[3.5,-0.05],[3.8,-0.3],[3.9,-0.55],[4.1,-0.8],[4.3,-1],[4.4,-1.2],[4.5,-1.4],[4.6,-1.72],[4.7,-1.95]];
const black4 = [[-19.8,2.2],[-19,2.17],[-17.5,2.16],[-16.5,2.08],[-16,2.05],[-15.2,2],[-14,1.9],[-13.2,1.82],[-12,1.73],[-11,1.6],[-10,1.55],[-9,1.48],[-8,1.4],[-7.2,1.33],[-6.5,1.3],[-5,1.28],[-4.2,1.15],[-3.5,1.13],[-2.5,1.1],[-2,1.06],[0.2,0.8],[0.6,0.75],[1,0.65],[1.4,0.55],[2,0.4],[2.4,0.25],[2.8,0.1],[3,-0.05],[3.5,-0.15],[3.8,-0.27],[4,-0.5],[4.1,-0.6],[4.2,-1.15],[4.35,-1.45],[4.4,-1.55],[4.45,-1.7],[4.6,-1.93]];
const black5 = [[-19.7,2.03],[-19.3,2.03],[-17.8,1.97],[-17,1.92],[-15.5,1.82],[-15,1.75],[-14,1.72],[-13.5,1.7],[-13,1.65],[-12.5,1.6],[-11.5,1.55],[-11,1.5],[-10,1.47],[-9.5,1.45],[-7.6,1.38],[-7,1.35],[-6.7,1.3],[-5.7,1.27],[-4.6,1.15],[-4,1.08],[-3.5,1.03],[-1.6,0.98],[-1.4,0.83],[-0.8,0.75],[-0.3,0.7],[0,0.6],[0.5,0.5],[1,0.4],[1.5,0.35],[2,0.2],[2.4,0.15],[2.8,-0.1],[3.2,-0.25],[3.6,-0.45],[4,-0.7],[4.3,-0.95],[4.5,-1.15],[4.7,-1.35],[4.8,-1.55],[4.85,-1.72]];
const black6 = [[-18.2,1.36],[-17.8,1.32],[-17.4,1.3],[-15.4,1.21],[-14.2,1.13],[-13.7,1.13],[-11.6,1.03],[-10.9,1],[-8.3,0.92],[-8,0.88],[-6.2,0.8],[-5.6,0.77],[-5,0.75],[-4.8,0.72],[-3,0.65],[-2.6,0.6],[-2,0.5],[-1.5,0.42],[-1,0.35],[-0.5,0.3],[-0.1,0.27],[0,0.12],[0.4,0],[1,-0.08],[2,-0.3],[2.3,-0.47],[3.4,-0.87],[3.6,-0.95],[3.8,-1.05],[4,-1.25],[4,-1.43],[4.2,-1.75],[4.7,-2.3],[4.7,-2.4]];
const black7 = [[-19.8,1.7],[-19.3,1.8],[-18.5,1.7],[-18,1.68],[-16.9,1.65],[-16.4,1.56],[-16.2,1.45],[-15.5,1.4],[-14.8,1.38],[-13.7,1.33],[-13,1.3],[-12.7,1.22],[-12.4,1.22],[-11.5,1.1],[-11.4,1],[-10.5,1],[-10,0.98],[-9.3,0.95],[-8.8,0.9],[-8.5,0.88],[-7.5,0.88],[-7,0.67],[-6.5,0.63],[-5.5,0.55],[-5,0.5],[-4.5,0.42],[-4.2,0.3],[-3.3,0.2],[-3,0.1],[-2.4,-0.1],[-1.9,-0.35],[-1.7,-0.42],[-1.3,-0.5],[-0.7,-0.7],[-0.4,-0.8],[0.3,-0.9],[0.4,-1.05],[0.7,-1.2],[1.3,-1.45],[1.7,-1.92],[2,-2.1],[2.2,-2.2],[2.5,-2.35],[2.6,-2.45]];
const black8 = [[-19.3,1.6],[-18.2,1.58],[-17.8,1.58],[-16.3,1.54],[-15.5,1.5],[-14.8,1.47],[-14,1.4],[-13.5,1.35],[-12.5,1.3],[-12.3,1.27],[-11,1.22],[-10.5,1.2],[-9.9,1.17],[-9.4,1.07],[-8.9,1.05],[-7.5,1.03],[-6.5,1],[-5.5,0.9],[-4.8,0.87],[-4,0.78],[-3.2,0.75],[-2.5,0.7],[-2,0.58],[-1.6,0.45],[-1.4,0.4],[-0.5,0.2],[0,0.1],[0.5,0],[1,-0.1],[1.5,-0.25],[2,-0.42],[2.5,-0.6],[2.9,-0.75],[3.3,-1.22],[3.5,-1.4],[4,-1.6],[4.1,-1.8],[4.4,-2.05],[4.6,-2.2],[4.65,-2.3]];
const black9 = [[-20,2.3],[-19,2.2],[-18,2.1],[-17,2],[-16,1.92],[-15,1.8],[-14,1.75],[-13,1.68],[-12,1.58],[-11,1.47],[-10,1.38],[-9,1.3],[-8,1.2],[-7,1.17],[-6,1.03],[-5,0.92],[-4,0.85],[-3,0.78],[-2,0.7],[-1,0.58],[0,0.5],[0.5,0.42],[1,0.3],[1.5,0.2],[2,0.1],[2.5,0],[3,-0.2],[3.5,-0.5],[4,-0.8],[4.4,-1.1],[4.6,-1.4],[4.8,-1.7],[4.85,-2],[4.9,-2.25]];
const black10 = [[-19.4,1.52],[-18.4,1.4],[-18.2,1.4],[-17.9,1.38],[-17.1,1.36],[-15.8,1.32],[-13,1.14],[-12.9,1.05],[-11.5,0.97],[-11,0.87],[-10.3,0.86],[-8.1,0.66],[-7.9,0.66],[-7,0.5],[-5.3,0.24],[-5.1,0.24],[-4.5,-0.14],[-1.6,-0.65],[-1.4,-0.68],[-0.7,-0.87],[-0.1,-1.04],[2.1,-2],[2.4,-2.12],[2.6,-2.2]];
const black11 = [[-19.2,1.93],[-18.9,1.93],[-17.8,1.85],[-17.6,1.8],[-16.2,1.75],[-15.6,1.67],[-14.9,1.56],[-13.3,1.53],[-12.5,1.48],[-11.8,1.45],[-11.3,1.37],[-10.3,1.24],[-10.1,1.23],[-8.1,1.12],[-7.4,1.06],[-4.9,0.92],[-4.4,0.9],[-3.3,0.84],[-1.9,0.72],[-1.5,0.65],[-0.5,0.47],[0.9,0.3],[1.3,0.25],[2.4,-0.12],[3.1,-0.2],[3.4,-0.32],[3.7,-0.37],[4.1,-0.57],[4.6,-0.73],[4.9,-1.02],[4.9,-1.4]];
const black12 = [[-20,2.05],[-19,1.97],[-18,1.88],[-17,1.85],[-16,1.73],[-15,1.62],[-14,1.55],[-13,1.47],[-12,1.38],[-11,1.35],[-10,1.27],[-9,1.17],[-8,1.1],[-7,0.98],[-6,0.85],[-5,0.7],[-4.5,0.6],[-4,0.52],[-3.3,0.4],[-3,0.27],[-2.2,0.17],[-1.5,0.05],[-1,-0.15],[-0.5,-0.22],[0,-0.3],[0.5,-0.35],[1,-0.55],[1.5,-0.65],[2,-0.8],[2.5,-0.95],[3,-1.1],[3.4,-1.25],[3.7,-1.5],[4,-1.7],[4.5,-1.92],[4.7,-2.15],[4.75,-2.28]];
const black13 = [[-19.3,1.91],[-17.3,1.88],[-10.7,1.75],[-9.9,1.72],[-7.7,1.6],[-7.3,1.58],[-6.8,1.55],[-6.5,1.52],[-5,1.43],[-3.7,1.35],[-2.5,1.28],[-2,1.27],[-1,1.22],[-0.3,1.13],[1.5,1.07],[2,1],[2.5,0.92],[3,0.75],[3.5,0.62],[4.2,0.05],[4.2,-0.08],[4.9,-0.12],[4.9,-0.38]];
const black14 = [[-18.8,2.25],[-18.2,2.15],[-17.2,2.08],[-16.5,2.02],[-15.5,1.97],[-15,1.92],[-14,1.83],[-13.5,1.78],[-13,1.75],[-12,1.6],[-11,1.53],[-10,1.47],[-9,1.38],[-7.5,1.33],[-5.5,1.15],[-5,1.1],[-4,1],[-3.5,0.95],[-3,0.82],[-2,0.72],[-1,0.58],[0,0.45],[0.5,0.35],[1,0.22],[1.5,0.12],[2,0.02],[2.3,-0.15],[2.8,-0.45],[3,-0.55],[3.3,-0.7],[3.7,-0.95],[4,-1.2],[4.4,-1.4],[4.6,-1.7],[4.7,-1.95],[4.8,-2.2],[4.9,-2.45]];
const black15 = [[-19.5,1.82],[-19,1.82],[-16.4,1.62],[-16.3,1.55],[-15.5,1.52],[-12.7,1.3],[-11.5,1.2],[-11,1.18],[-10.3,1.15],[-10,1.13],[-8.1,1.12],[-6.5,1.1],[-6.3,1.1],[-6,0.85],[-4.6,0.8],[-4.2,0.75],[-4,0.7],[-3.9,0.63],[-3.6,0.5],[-3.2,0.43],[-2.1,0.15],[-2.1,0.08],[-0.1,-0.6],[0.2,-0.6],[1.1,-0.95],[1.2,-1.08],[2,-1.5],[2.1,-1.67],[3.1,-2.25],[3.2,-2.35],[3.3,-2.45],[3.4,-2.55]];
const black16 = [[-20,1.78],[-19,1.72],[-18,1.65],[-17,1.58],[-16,1.48],[-15,1.4],[-14,1.38],[-13,1.32],[-12,1.28],[-11,1.25],[-10,1.2],[-9,1.12],[-8,1.05],[-7,1],[-6,0.93],[-5,0.88],[-4,0.82],[-3,0.75],[-2,0.65],[-1,0.58],[0,0.48],[1,0.35],[1.5,0.25],[2,0.12],[2.5,0],[3,-0.15],[3.5,-0.35],[4,-0.55],[4.3,-0.8],[4.6,-1.1],[4.8,-1.45]];
const black17 = [[-19.7,1.97],[-19,1.93],[-18,1.88],[-17,1.8],[-16,1.75],[-15.5,1.75],[-14.5,1.73],[-14,1.68],[-13.5,1.7],[-13,1.6],[-12,1.55],[-11.5,1.5],[-11,1.45],[-10,1.4],[-9,1.38],[-8,1.35],[-7,1.25],[-6,1.17],[-5,1.15],[-4.5,1.1],[-3.9,1],[-1.3,0.95],[-0.8,0.9],[-0.2,0.82],[1,0.72],[1.5,0.68],[2,0.6],[2.5,0.52],[3,0.45],[3.5,0.35],[3.8,0],[4.2,-0.05],[4.2,-0.25],[4.5,-0.4],[4.7,-0.8]];
const black18 = [[-19.7,2.27],[-18.3,2.12],[-17,2.07],[-15.7,2],[-14.6,1.97],[-13.3,1.9],[-12.5,1.8],[-12,1.78],[-11.3,1.72],[-10.2,1.63],[-9.5,1.62],[-8.8,1.6],[-7.3,1.55],[-6.5,1.5],[-5.5,1.42],[-4.5,1.4],[-3.5,1.33],[-3,1.3],[-1.7,1.25],[-1,1.2],[-0.5,1.15],[0.7,1.07],[1.8,1.03],[2.7,0.98],[3.3,0.92],[3.7,0.85],[3.9,0.7],[3.9,0.62],[4.6,0.5],[4.7,0.33]];

// one clinical plan per patient, patient 12's is not visible
const clinical = [[0.3,-0.17],[3.2,0.07],[-0.5,-0.83],[0,0.08],[2.7,-0.48],[3.1,-2.2],[-17,-0.48],[2.6,-1.38],[-6.8,-0.12],[-9.1,-0.84],[0,-1.13],null,[3.9,-0.38],[0.4,-0.15],[-10.3,-1.63],[0.6,-0.25],[0.3,0.12],[0.9,0.4]];

const pinkAll = [pink1,pink2,pink3,pink4,pink5,pink6,pink7,pink8,pink9,pink10,pink11,pink12,pink13,pink14,pink15,pink16,pink17,pink18];
const grayAll = [gray1,gray2,gray3,gray4,gray5,gray6,gray7,gray8,gray9,gray10,gray11,gray12,gray13,gray14,gray15,gray16,gray17,gray18];
const blueAll = [blue1,blue2,blue3,blue4,blue5,blue6,blue7,blue8,blue9,blue10,blue11,blue12,blue13,blue14,blue15,blue16,blue17,blue18];
const blackAll = [black1,black2,black3,black4,black5,black6,black7,black8,black9,black10,black11,black12,black13,black14,black15,black16,black17,black18];

const xTicks = [-20,-15,-10,-5,0,5];
const yTicks = [-2,-1,0,1,2];
const legendNames = ["20000 points - 1 hour","20000 points - 5 minutes","Multi-resolution - 5 minutes","Multi-resolution 4x - 5 minutes","Clinical plan"];

const width = 1213, height = 1531;
const svg = d3.select("body").append("svg").attr("width",width).attr("height",height).style("display","block");

const colX = [57,347,636,925], rowY = [11,312,613,914], lastX = [361,650];
const pw = 242, ph = 241;

const hexagon = {
  draw(ctx,size){
    const r = Math.sqrt(size/2.598);
    for (let i=0;i<6;i++){
      const a = Math.PI/3*i;
      if (i==0) ctx.moveTo(r*Math.sin(a),-r*Math.cos(a));
      else ctx.lineTo(r*Math.sin(a),-r*Math.cos(a));
    }
    ctx.closePath();
  }
};
const pinkMark = d3.symbol().type(d3.symbolSquare).size(64);
const grayMark = d3.symbol().type(d3.symbolSquare).size(49);
const starMark = d3.symbol().type(d3.symbolStar).size(30);
const hexMark = d3.symbol().type(hexagon).size(100);

const PINK="#ff0099", GRAY="#666666", BLUE="#33bbee", BLACK="#000000", GREEN="#55ee55";

const x = d3.scaleLinear().domain([-20,5]).range([0,pw]);
const y = d3.scaleLinear().domain([-2.6,2.6]).range([ph,0]);

// dense runs of markers are a solid band in the picture, so close neighbours get joined
function links(g,pts,color,w,limit){
  const pairs = d3.pairs(pts).filter(function(p){
    if (!p[0]||!p[1]) return false;
    return Math.hypot(x(p[0][0])-x(p[1][0]),y(p[0][1])-y(p[1][1])) < limit;
  });
  g.append("g").selectAll("line").data(pairs).enter().append("line")
    .attr("x1",d=>x(d[0][0])).attr("y1",d=>y(d[0][1]))
    .attr("x2",d=>x(d[1][0])).attr("y2",d=>y(d[1][1]))
    .attr("stroke",color).attr("stroke-width",w);
}
function marks(g,pts,mark,color){
  g.append("g").selectAll("path").data(pts.filter(d=>d)).enter().append("path")
    .attr("d",mark)
    .attr("transform",d=>"translate("+x(d[0])+","+y(d[1])+")")
    .attr("fill",color);
}

for (let i=0;i<18;i++){
  const px = i<16 ? colX[i%4] : lastX[i-16];
  const py = i<16 ? rowY[Math.floor(i/4)] : 1215;
  const g = svg.append("g").attr("transform","translate("+px+","+py+")");

  g.append("rect").attr("x",x(0)).attr("y",y(2.6)).attr("width",x(5)-x(0)).attr("height",y(0)-y(2.6)).attr("fill","#ffd700");

  g.append("g").selectAll("line").data(xTicks.slice(1,4)).enter().append("line")
    .attr("x1",d=>x(d)).attr("x2",d=>x(d)).attr("y1",0).attr("y2",ph)
    .attr("stroke","#000").attr("stroke-opacity",0.6).attr("stroke-dasharray","5,2.5");
  g.append("g").selectAll("line").data(yTicks.filter(d=>d!=0)).enter().append("line")
    .attr("y1",d=>y(d)).attr("y2",d=>y(d)).attr("x1",0).attr("x2",pw)
    .attr("stroke","#000").attr("stroke-opacity",0.6).attr("stroke-dasharray","5,2.5");
  g.append("line").attr("x1",x(0)).attr("x2",x(0)).attr("y1",0).attr("y2",ph).attr("stroke","#000").attr("stroke-width",2.2);
  g.append("line").attr("x1",0).attr("x2",pw).attr("y1",y(0)).attr("y2",y(0)).attr("stroke","#000").attr("stroke-width",2.2);

  const clip = "clip"+i;
  svg.append("clipPath").attr("id",clip).append("rect").attr("width",pw).attr("height",ph);
  const m = g.append("g").attr("clip-path","url(#"+clip+")");

  links(m,pinkAll[i],PINK,8,40);
  marks(m,pinkAll[i],pinkMark,PINK);
  links(m,grayAll[i],GRAY,6.5,10.5);
  marks(m,grayAll[i],grayMark,GRAY);
  links(m,blueAll[i],BLUE,3.5,10.2);
  marks(m,blueAll[i],starMark,BLUE);
  links(m,blackAll[i],BLACK,3.5,10.2);
  marks(m,blackAll[i],starMark,BLACK);
  if (clinical[i]) marks(m,[clinical[i]],hexMark,GREEN);

  g.append("rect").attr("width",pw).attr("height",ph).attr("fill","none").attr("stroke","#000").attr("stroke-width",1);

  const ax = g.append("g").attr("transform","translate(0,"+ph+")").call(d3.axisBottom(x).tickValues(xTicks).tickFormat(d3.format("d")).tickSize(3.5).tickPadding(3));
  const ay = g.append("g").call(d3.axisLeft(y).tickValues(yTicks).tickFormat(d3.format("d")).tickSize(3.5).tickPadding(3));
  [ax,ay].forEach(function(a){
    a.select(".domain").remove();
    a.selectAll("text").attr("font-size",11.5).attr("font-family","DejaVu Sans");
  });

  g.append("text").attr("x",pw/2).attr("y",ph+31).attr("text-anchor","middle").attr("font-size",13.6).text("Least Coverage Index (%)");
  if (i%4==0){
    g.append("text").attr("transform","translate(-28,"+(ph/2)+") rotate(-90)").attr("text-anchor","middle").attr("font-size",13.6).text("Least Sparing Index (Gy)");
  }
  g.append("text").attr("x",x(-15)).attr("y",20.5).attr("font-size",27.7).text("Patient "+(i+1));
}

// legend
const legend = svg.append("g");
legend.append("rect").attr("x",6.5).attr("y",1506.5).attr("width",1204).attr("height",30).attr("rx",3).attr("fill","#fff").attr("stroke","#ccc");
const legendMarkX = [27,258,515,791,1089];
const legendTextX = [53,284,541,816,1115];
const legendMarks = [pinkMark,grayMark,starMark,starMark,hexMark];
const legendColors = [PINK,GRAY,BLUE,BLACK,GREEN];
legendNames.forEach(function(name,k){
  legend.append("path").attr("d",legendMarks[k]).attr("fill",legendColors[k]).attr("transform","translate("+legendMarkX[k]+",1518)");
  legend.append("text").attr("x",legendTextX[k]).attr("y",1523).attr("font-size",13.4).attr("letter-spacing",0.75).text(name);
});
</script>
</body>
</html>
